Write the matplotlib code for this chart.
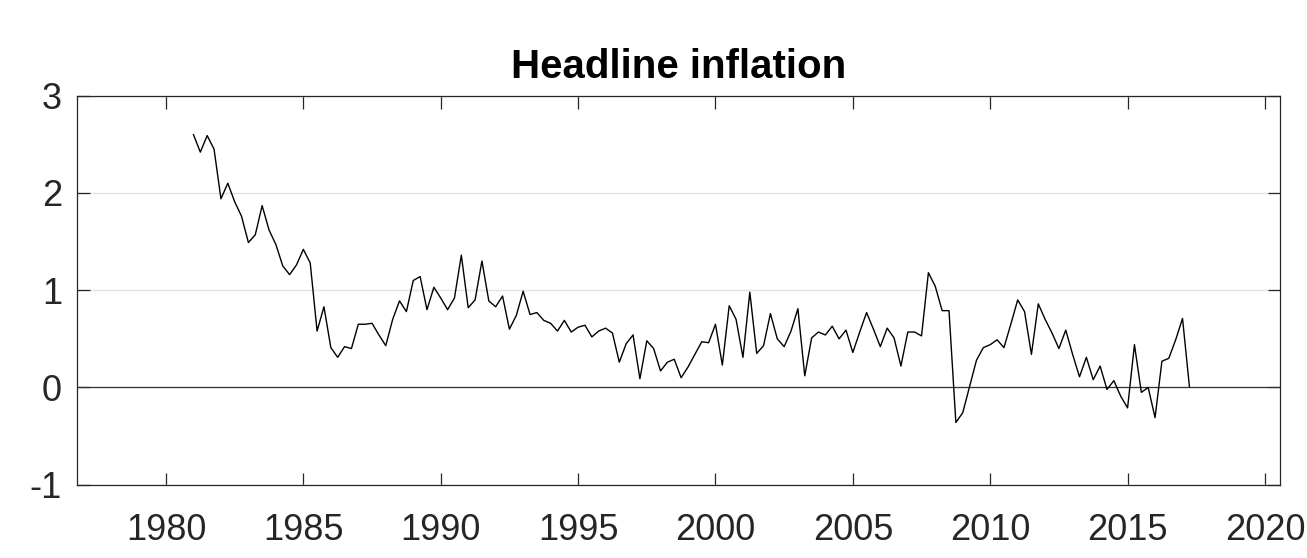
import numpy as np
import matplotlib
matplotlib.use("Agg")
import matplotlib.pyplot as plt

plt.rcParams["font.family"] = ["Liberation Sans", "DejaVu Sans"]

# Quarterly headline inflation, 1981Q1 onwards
start_year = 1981.0
values = [
    2.60, 2.42, 2.59, 2.45, 1.94, 2.10, 1.91, 1.76, 1.49, 1.57, 1.87, 1.62, 1.47, 1.25, 1.16, 1.26, 1.42,
    1.28, 0.58, 0.83, 0.41, 0.31, 0.42, 0.40, 0.65, 0.65, 0.66, 0.54, 0.43, 0.70, 0.89, 0.78, 1.10, 1.14, 0.80, 1.03, 0.92,
    0.80, 0.92, 1.36, 0.82, 0.90, 1.30, 0.89, 0.83, 0.94, 0.60, 0.74, 0.99, 0.75, 0.77, 0.69, 0.66, 0.58, 0.69, 0.57, 0.62, 0.64,
    0.52, 0.58, 0.61, 0.56, 0.26, 0.45, 0.54, 0.09, 0.48, 0.40, 0.17, 0.26, 0.29, 0.10, 0.21, 0.34, 0.47, 0.46, 0.65, 0.23,
    0.84, 0.70, 0.31, 0.98, 0.35, 0.43, 0.76, 0.50, 0.42, 0.58, 0.81, 0.12, 0.51, 0.57, 0.54, 0.63, 0.50, 0.59, 0.36,
    0.57, 0.77, 0.60, 0.42, 0.61, 0.51, 0.22, 0.57, 0.57, 0.53, 1.18, 1.04, 0.79, 0.79, -0.36, -0.26, 0.01, 0.28, 0.41, 0.44, 0.49, 0.41,
    0.65, 0.90, 0.78, 0.34, 0.86, 0.70, 0.56, 0.40, 0.59, 0.34, 0.11, 0.31, 0.08, 0.22, -0.02, 0.07, -0.09, -0.21, 0.44, -0.05, 0.00,
    -0.31, 0.27, 0.30, 0.49, 0.71, 0.01,
]
dates = start_year + 0.25 * np.arange(len(values))

x_ticks = [1980, 1985, 1990, 1995, 2000, 2005, 2010, 2015, 2020]
y_ticks = [-1, 0, 1, 2, 3]

axis_color = "#262626"

fig = plt.figure(figsize=(13.07, 5.58), dpi=100)
ax = fig.add_axes([0.0591, 0.1313, 0.9205, 0.6972])

ax.grid(axis="y", color="#e3e3e3", linewidth=1.0)
ax.set_axisbelow(True)
ax.axhline(0, color="#333333", linewidth=0.9, zorder=1.5)
ax.plot(dates, values, color="black", linewidth=1.0, zorder=3)

ax.set_xlim(1976.77, 2020.56)
ax.set_ylim(-1, 3)
ax.set_xticks(x_ticks)
ax.set_yticks(y_ticks)
ax.set_xticklabels([str(t) for t in x_ticks])
ax.set_yticklabels([str(t) for t in y_ticks])

for s in ax.spines.values():
    s.set_color(axis_color)
    s.set_linewidth(0.9)

ax.tick_params(axis="both", which="major", direction="in", length=9,
               width=0.9, color=axis_color, labelcolor=axis_color,
               labelsize=26, top=True, right=True)
ax.tick_params(axis="x", pad=20)
ax.tick_params(axis="y", pad=11)

ax.set_title("Headline inflation", fontsize=29, fontweight="bold", pad=12.5)

fig.savefig("out.png", dpi=100)
